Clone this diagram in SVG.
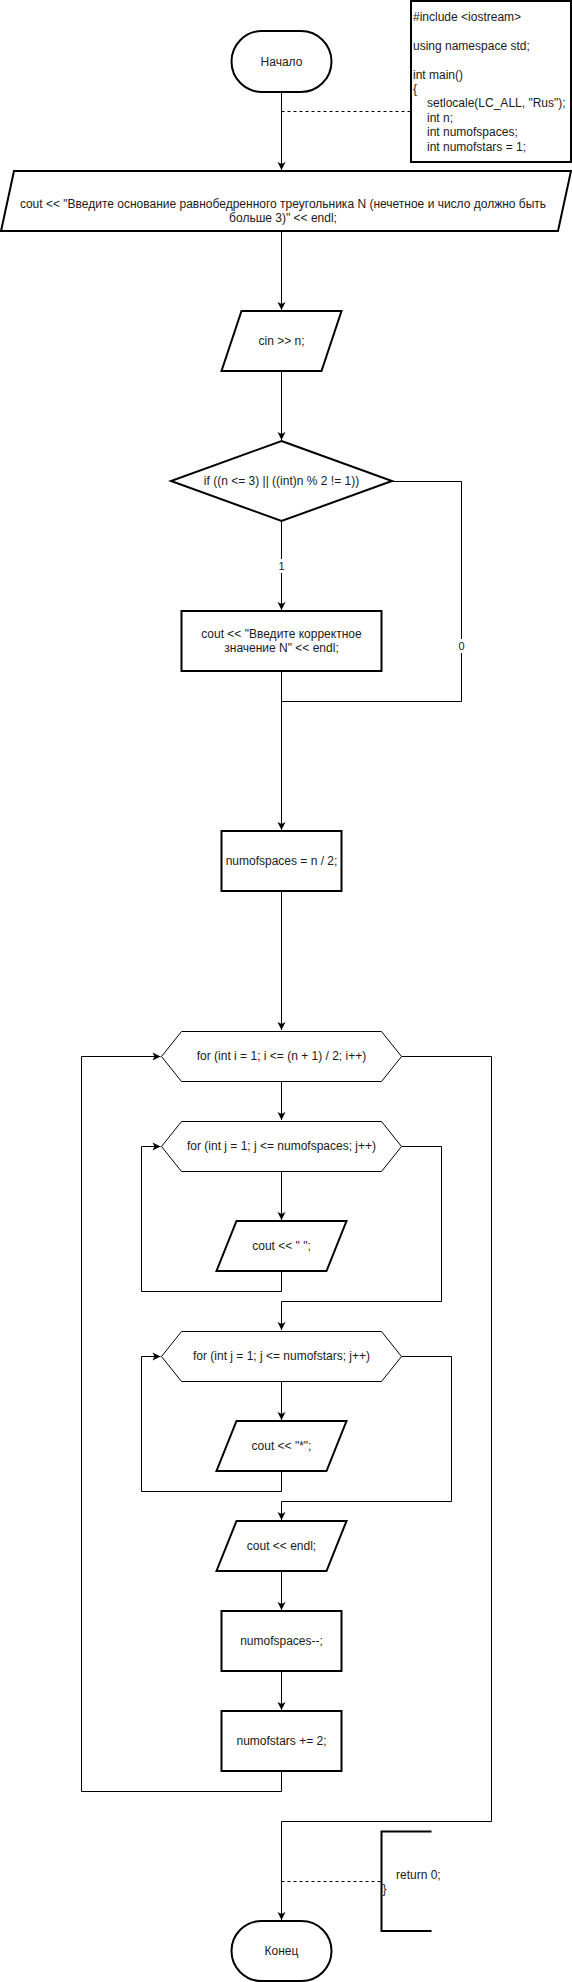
<svg xmlns="http://www.w3.org/2000/svg" width="572" height="1982" viewBox="0 0 572 1982">
<style>
.s{fill:#fff;stroke:#000;stroke-width:2}
.h{fill:#fff;stroke:#000;stroke-width:1}
.c{fill:none;stroke:#000;stroke-width:1}
.d{fill:none;stroke:#000;stroke-width:1;stroke-dasharray:3 3}
text{font-family:"Liberation Sans",Arial,sans-serif;font-size:12px;fill:#1a1a1a}
.m{text-anchor:middle;dominant-baseline:central}
.l{dominant-baseline:central}
.lb{font-size:11px}
</style>
<defs>
<marker id="arr" viewBox="-9 -5 10 10" markerWidth="10" markerHeight="10" refX="0" refY="0" orient="auto" markerUnits="userSpaceOnUse">
<path d="M-8,-4 L0,0 L-8,4 L-6,0 Z" fill="#000"/>
</marker>
</defs>
<rect width="572" height="1982" fill="#fff"/>
<g id="connectors">
<path class="c" d="M281.5,92 V170" marker-end="url(#arr)"/>
<path class="d" d="M281.5,111.5 H411"/>
<path class="c" d="M281.5,231 V310" marker-end="url(#arr)"/>
<path class="c" d="M281.5,371 V440" marker-end="url(#arr)"/>
<path class="c" d="M281.5,521 V610" marker-end="url(#arr)"/>
<path class="c" d="M392,481.5 H461.5 V701.5 H281.5"/>
<path class="c" d="M281.5,671 V830" marker-end="url(#arr)"/>
<path class="c" d="M281.5,891 V1030" marker-end="url(#arr)"/>
<path class="c" d="M281.5,1081 V1120" marker-end="url(#arr)"/>
<path class="c" d="M281.5,1171 V1220" marker-end="url(#arr)"/>
<path class="c" d="M281.5,1271 V1291.5 H141.5 V1146.5 H160.5" marker-end="url(#arr)"/>
<path class="c" d="M401.5,1146.5 H441.5 V1301.5 H281.5 V1330" marker-end="url(#arr)"/>
<path class="c" d="M281.5,1381 V1420" marker-end="url(#arr)"/>
<path class="c" d="M281.5,1471 V1491.5 H141.5 V1356.5 H160.5" marker-end="url(#arr)"/>
<path class="c" d="M401.5,1356.5 H451.5 V1501.5 H281.5 V1520" marker-end="url(#arr)"/>
<path class="c" d="M281.5,1571 V1610" marker-end="url(#arr)"/>
<path class="c" d="M281.5,1671 V1710" marker-end="url(#arr)"/>
<path class="c" d="M281.5,1771 V1791.5 H81.5 V1056.5 H160.5" marker-end="url(#arr)"/>
<path class="c" d="M401.5,1056.5 H491.5 V1821.5 H281.5 V1920" marker-end="url(#arr)"/>
<path class="d" d="M281.5,1881.5 H381"/>
<rect x="276" y="559" width="11" height="14" fill="#fff"/>
<text class="m lb" x="281.5" y="566">1</text>
<rect x="456" y="639" width="11" height="14" fill="#fff"/>
<text class="m lb" x="461.5" y="646">0</text>
</g>
<g id="start">
<rect class="s" x="231.5" y="31" width="100" height="61" rx="30.5"/>
<text class="m" x="281.5" y="61.5">Начало</text>
</g>
<g id="code">
<rect class="s" x="411" y="1" width="160" height="161"/>
<text class="l" x="413" y="17">#include &lt;iostream&gt;</text>
<text class="l" x="413" y="45.8">using namespace std;</text>
<text class="l" x="413" y="74.6">int main()</text>
<text class="l" x="413" y="89">{</text>
<text class="l" x="427" y="103.4">setlocale(LC_ALL, "Rus");</text>
<text class="l" x="427" y="117.8">int n;</text>
<text class="l" x="427" y="132.2">int numofspaces;</text>
<text class="l" x="427" y="146.6">int numofstars = 1;</text>
</g>
<g id="prompt">
<polygon class="s" points="14,171 571,171 558,231 1,231"/>
<text class="m" x="283" y="204">cout &lt;&lt; "Введите основание равнобедренного треугольника N (нечетное и число должно быть</text>
<text class="m" x="283" y="218.4">больше 3)" &lt;&lt; endl;</text>
</g>
<g id="input">
<polygon class="s" points="241.5,311 341.5,311 321.5,371 221.5,371"/>
<text class="m" x="281.5" y="341">cin &gt;&gt; n;</text>
</g>
<g id="cond">
<polygon class="s" points="281.5,441 392,481 281.5,521 171,481"/>
<text class="m" x="281.5" y="481">if ((n &lt;= 3) || ((int)n % 2 != 1))</text>
</g>
<g id="error">
<rect class="s" x="181.5" y="611" width="200" height="60"/>
<text class="m" x="281.5" y="633.8">cout &lt;&lt; "Введите корректное</text>
<text class="m" x="281.5" y="648.2">значение N" &lt;&lt; endl;</text>
</g>
<g id="init">
<rect class="s" x="221.5" y="831" width="120" height="60"/>
<text class="m" x="281.5" y="861">numofspaces = n / 2;</text>
</g>
<g id="loop-i">
<polygon class="h" points="161.5,1056.5 181.5,1031.5 381.5,1031.5 401.5,1056.5 381.5,1081.5 181.5,1081.5"/>
<text class="m" x="281.5" y="1056">for (int i = 1; i &lt;= (n + 1) / 2; i++)</text>
</g>
<g id="loop-j1">
<polygon class="h" points="161.5,1146.5 181.5,1121.5 381.5,1121.5 401.5,1146.5 381.5,1171.5 181.5,1171.5"/>
<text class="m" x="281.5" y="1146">for (int j = 1; j &lt;= numofspaces; j++)</text>
</g>
<g id="print-space">
<polygon class="s" points="236.5,1221 346.5,1221 326.5,1271 216.5,1271"/>
<text class="m" x="281.5" y="1246">cout &lt;&lt; " ";</text>
</g>
<g id="loop-j2">
<polygon class="h" points="161.5,1356.5 181.5,1331.5 381.5,1331.5 401.5,1356.5 381.5,1381.5 181.5,1381.5"/>
<text class="m" x="281.5" y="1356">for (int j = 1; j &lt;= numofstars; j++)</text>
</g>
<g id="print-star">
<polygon class="s" points="236.5,1421 346.5,1421 326.5,1471 216.5,1471"/>
<text class="m" x="281.5" y="1446">cout &lt;&lt; "*";</text>
</g>
<g id="print-endl">
<polygon class="s" points="236.5,1521 346.5,1521 326.5,1571 216.5,1571"/>
<text class="m" x="281.5" y="1546">cout &lt;&lt; endl;</text>
</g>
<g id="dec-spaces">
<rect class="s" x="221.5" y="1611" width="120" height="60"/>
<text class="m" x="281.5" y="1641">numofspaces--;</text>
</g>
<g id="inc-stars">
<rect class="s" x="221.5" y="1711" width="120" height="60"/>
<text class="m" x="281.5" y="1741">numofstars += 2;</text>
</g>
<g id="end">
<rect class="s" x="231.5" y="1921" width="100" height="60" rx="30"/>
<text class="m" x="281.5" y="1951">Конец</text>
</g>
<g id="return-note">
<path class="s" style="fill:none" d="M431.5,1831.5 H381.5 V1931 H431.5"/>
<text class="l" x="396" y="1874.5">return 0;</text>
<text class="l" x="382.5" y="1889">}</text>
</g>
</svg>
